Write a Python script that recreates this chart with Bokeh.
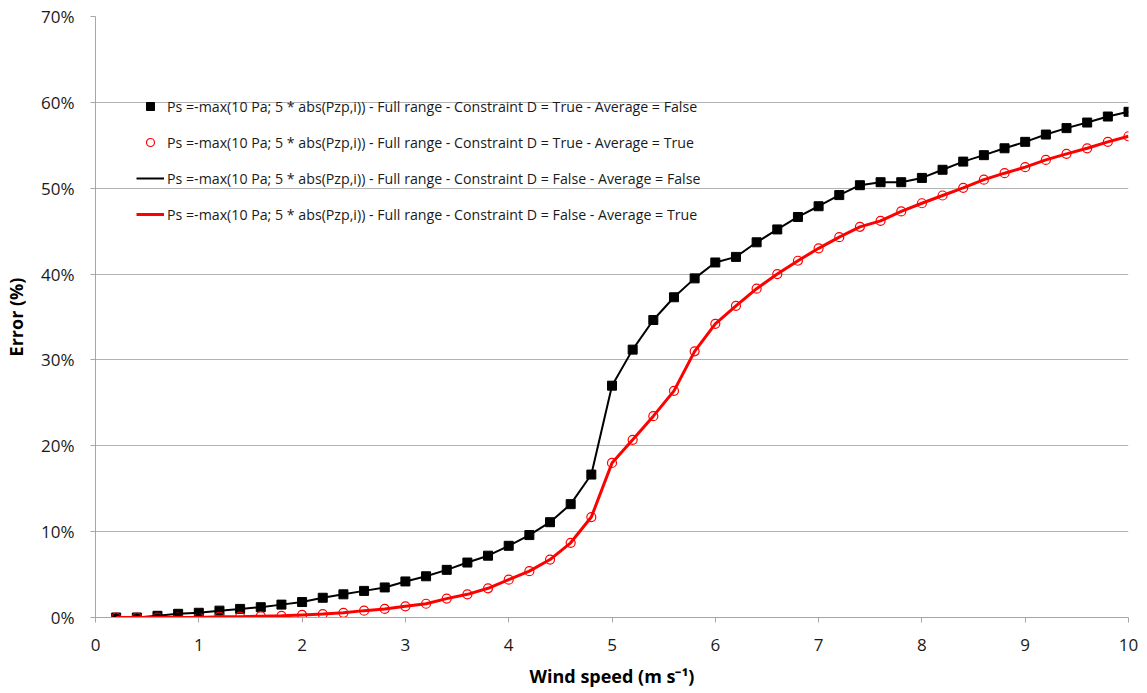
from bokeh.plotting import figure
from bokeh.models import Range1d, Legend, LegendItem, PrintfTickFormatter, FixedTicker, ColumnDataSource
from bokeh.embed import file_html
from bokeh.resources import INLINE

wind_speed = [round(0.2 * i, 1) for i in range(1, 51)]
err_avg_false = [0.0, 0.0, 0.2, 0.43, 0.55, 0.8, 1.0, 1.2, 1.5, 1.8,
                 2.3, 2.7, 3.1, 3.5, 4.2, 4.8, 5.55, 6.4, 7.2, 8.35,
                 9.6, 11.1, 13.2, 16.65, 27.0, 31.2, 34.65, 37.3, 39.5, 41.35,
                 42.0, 43.7, 45.2, 46.65, 47.9, 49.2, 50.35, 50.7, 50.7, 51.2,
                 52.15, 53.1, 53.85, 54.65, 55.4, 56.25, 57.0, 57.65, 58.35, 58.9]
err_avg_true = [0.0, 0.0, 0.0, 0.0, 0.0, 0.1, 0.1, 0.15, 0.2, 0.3,
                0.4, 0.55, 0.8, 1.0, 1.3, 1.6, 2.2, 2.7, 3.4, 4.4,
                5.4, 6.75, 8.7, 11.7, 18.0, 20.7, 23.45, 26.4, 31.0, 34.2,
                36.3, 38.3, 40.0, 41.55, 43.0, 44.3, 45.5, 46.2, 47.3, 48.25,
                49.15, 50.05, 51.0, 51.75, 52.45, 53.3, 54.0, 54.65, 55.4, 56.05]
y_ticks = [0, 10, 20, 30, 40, 50, 60, 70]
x_ticks = list(range(0, 11))
labels = [
    "Ps =-max(10 Pa; 5 * abs(Pzp,i)) - Full range - Constraint D = True - Average = False",
    "Ps =-max(10 Pa; 5 * abs(Pzp,i)) - Full range - Constraint D = True - Average = True",
    "Ps =-max(10 Pa; 5 * abs(Pzp,i)) - Full range - Constraint D = False - Average = False",
    "Ps =-max(10 Pa; 5 * abs(Pzp,i)) - Full range - Constraint D = False - Average = True",
]

src = ColumnDataSource(dict(x=wind_speed, a=err_avg_false, b=err_avg_true))

p = figure(frame_width=1033, frame_height=601, output_backend="svg", toolbar_location=None,
           x_range=Range1d(0, 10), y_range=Range1d(0, 70),
           min_border_left=95, min_border_top=16, min_border_right=12, min_border_bottom=60,
           background_fill_color="white", border_fill_color="white")
p.outline_line_color = None

r1 = p.scatter("x", "a", source=src, marker="square", size=9, fill_color="black", line_color="black")
r2 = p.scatter("x", "b", source=src, marker="circle", size=9, fill_color=None, line_color="#ff0000", line_width=1.2)
r3 = p.line("x", "a", source=src, line_color="black", line_width=2)
r4 = p.line("x", "b", source=src, line_color="#ff0000", line_width=3)

for ax in (p.xaxis[0], p.yaxis[0]):
    ax.axis_line_color = "#a6a6a6"
    ax.major_tick_line_color = "#a6a6a6"
    ax.major_tick_out = 5
    ax.major_tick_in = 0
    ax.minor_tick_line_color = None
    ax.major_label_text_font = "Open Sans"
    ax.major_label_text_font_size = "17px"
    ax.major_label_text_color = "#1a1a1a"
    ax.axis_label_text_font = "Open Sans"
    ax.axis_label_text_font_size = "18px"
    ax.axis_label_text_font_style = "bold"
    ax.axis_label_text_color = "black"

p.xaxis.ticker = FixedTicker(ticks=x_ticks)
p.yaxis.ticker = FixedTicker(ticks=y_ticks)
p.yaxis.formatter = PrintfTickFormatter(format="%d%%")
p.xaxis.axis_label = "Wind speed (m s\u207b\u00b9)"
p.yaxis.axis_label = "Error (%)"
p.xaxis.major_label_standoff = 16
p.yaxis.major_label_standoff = 16
p.xaxis.axis_label_standoff = 10
p.yaxis.axis_label_standoff = 10

p.xgrid.grid_line_color = None
p.ygrid.grid_line_color = "#b3b3b3"
p.ygrid.grid_line_width = 1

legend = Legend(items=[LegendItem(label=labels[0], renderers=[r1]),
                       LegendItem(label=labels[1], renderers=[r2]),
                       LegendItem(label=labels[2], renderers=[r3]),
                       LegendItem(label=labels[3], renderers=[r4])],
                location=(41, 393), orientation="vertical")
legend.border_line_color = None
legend.background_fill_alpha = 0
legend.padding = 0
legend.margin = 0
legend.spacing = 16
legend.glyph_width = 28
legend.glyph_height = 20
legend.label_height = 20
legend.label_standoff = 3
legend.label_text_font = "Open Sans"
legend.label_text_font_size = "14.2px"
legend.label_text_color = "#1a1a1a"
p.add_layout(legend, "center")

open("out.html", "w").write(file_html(p, INLINE))
